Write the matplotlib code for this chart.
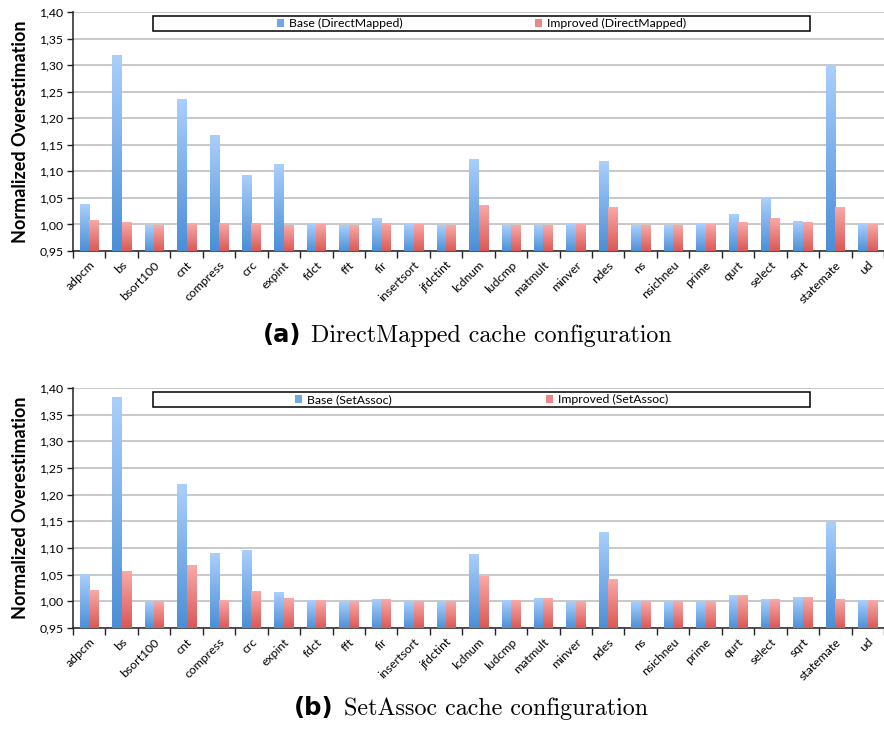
import numpy as np
import matplotlib
matplotlib.use("Agg")
import matplotlib.pyplot as plt
from matplotlib.colors import LinearSegmentedColormap
from matplotlib.patches import Rectangle

categories = ["adpcm", "bs", "bsort100", "cnt", "compress", "crc", "expint", "fdct", "fft",
              "fir", "insertsort", "jfdctint", "lcdnum", "ludcmp", "matmult", "minver", "ndes",
              "ns", "nsichneu", "prime", "qurt", "select", "sqrt", "statemate", "ud"]

dm_base = [1.037, 1.319, 0.998, 1.236, 1.168, 1.093, 1.112, 1.000, 0.998, 1.012, 1.000, 0.998,
           1.123, 0.998, 0.998, 0.999, 1.119, 0.998, 0.998, 0.999, 1.018, 1.048, 1.006, 1.297, 0.999]
dm_impr = [1.008, 1.003, 0.998, 1.002, 1.001, 1.001, 0.998, 1.000, 0.998, 1.001, 1.000, 0.998,
           1.036, 0.998, 0.998, 0.999, 1.032, 0.998, 0.998, 0.999, 1.003, 1.011, 1.003, 1.031, 0.999]

sa_base = [1.050, 1.382, 1.000, 1.220, 1.089, 1.095, 1.017, 1.001, 1.000, 1.003, 1.000, 1.000,
           1.088, 1.002, 1.005, 1.000, 1.130, 1.000, 1.000, 1.000, 1.010, 1.003, 1.008, 1.150, 1.001]
sa_impr = [1.020, 1.056, 1.000, 1.067, 1.001, 1.018, 1.005, 1.001, 1.000, 1.003, 1.000, 1.000,
           1.046, 1.002, 1.005, 1.000, 1.041, 1.000, 1.000, 0.999, 1.010, 1.003, 1.008, 1.004, 1.001]

yticks = [0.95, 1.00, 1.05, 1.10, 1.15, 1.20, 1.25, 1.30, 1.35, 1.40]
ytick_labels = ["0,95", "1,00", "1,05", "1,10", "1,15", "1,20", "1,25", "1,30", "1,35", "1,40"]

blue_cmap = LinearSegmentedColormap.from_list("b", ["#4a8ed6", "#aacffc"])
red_cmap = LinearSegmentedColormap.from_list("r", ["#d95652", "#f8aaa8"])

FONT = "Lato"
W, H = 884, 731
fig = plt.figure(figsize=(W / 100, H / 100), dpi=100)


def px_axes(left, top, right, bottom):
    return fig.add_axes([left / W, 1 - bottom / H, (right - left) / W, (bottom - top) / H])


grad = np.linspace(0, 1, 256).reshape(-1, 1)


def draw_panel(ax, base, impr, labels, colspacing):
    x = np.arange(len(categories))
    w = 0.29
    ymin = 0.95
    b1 = ax.bar(x - w / 2, np.array(base) - ymin, w, bottom=ymin, color="none", edgecolor="none")
    b2 = ax.bar(x + w / 2, np.array(impr) - ymin, w, bottom=ymin, color="none", edgecolor="none")
    for bars, cmap in ((b1, blue_cmap), (b2, red_cmap)):
        for bar in bars:
            bx, by = bar.get_x(), bar.get_y()
            bw, bh = bar.get_width(), bar.get_height()
            ax.imshow(grad, extent=[bx, bx + bw, by - 0.002, by + bh], origin="lower",
                      aspect="auto", cmap=cmap, zorder=3, interpolation="bilinear")
    ax.set_xlim(-0.5, len(categories) - 0.5)
    ax.set_ylim(0.95, 1.40)
    ax.set_yticks(yticks)
    ax.set_yticklabels(ytick_labels, fontsize=8.8, family=FONT)
    ax.yaxis.grid(True, color="#c4c4c4", linewidth=1.3, zorder=0)
    ax.set_axisbelow(True)
    ax.set_xticks(np.arange(len(categories) + 1) - 0.5)
    ax.set_xticklabels([])
    ax.set_xticks(x, minor=True)
    ax.set_xticklabels(categories, minor=True, rotation=45, ha="right",
                       rotation_mode="anchor", fontsize=8.8, family=FONT)
    ax.tick_params(axis="x", which="minor", length=0, pad=6)
    ax.tick_params(axis="x", which="major", length=5, width=1, color="#222222", direction="out")
    ax.tick_params(axis="y", length=4, width=1, color="#222222", pad=3)
    for s in ("top", "right"):
        ax.spines[s].set_visible(False)
    ax.spines["left"].set_color("#222222")
    ax.spines["bottom"].set_color("#222222")
    ax.spines["left"].set_linewidth(1.1)
    ax.spines["bottom"].set_linewidth(1.1)
    ax.set_ylabel("Normalized Overestimation", fontsize=13, fontweight="bold", family=FONT,
                  labelpad=7)
    # legend frame box
    x0, x1 = (153 - 73) / 811, (810 - 73) / 811
    rect = Rectangle((x0, 0.921), x1 - x0, 0.062, transform=ax.transAxes, facecolor="white",
                     edgecolor="black", linewidth=1.1, zorder=5)
    ax.add_patch(rect)
    h1 = Rectangle((0, 0), 1, 1, facecolor="#6fa8e8", edgecolor="none")
    h2 = Rectangle((0, 0), 1, 1, facecolor="#ee8683", edgecolor="none")
    leg = ax.legend([h1, h2], labels, ncol=2, frameon=False, loc="center",
                    bbox_to_anchor=((x0 + x1) / 2, 0.952), prop={"family": FONT, "size": 8.8},
                    handlelength=0.6, handleheight=0.6, handletextpad=0.4,
                    columnspacing=colspacing, borderpad=0)
    leg.set_zorder(6)


ax1 = px_axes(73, 12, 884, 251)
draw_panel(ax1, dm_base, dm_impr, ["Base (DirectMapped)", "Improved (DirectMapped)"], 10.8)
ax2 = px_axes(73, 388, 884, 628)
draw_panel(ax2, sa_base, sa_impr, ["Base (SetAssoc)", "Improved (SetAssoc)"], 12.6)


# captions
def caption(y, tag, text, cx):
    t1 = fig.text(0, 0, tag, fontsize=17.5, fontweight="bold", family="DejaVu Sans",
                  va="baseline")
    t2 = fig.text(0, 0, text, fontsize=17.3, family="cmr10", va="baseline")
    fig.canvas.draw()
    r = fig.canvas.get_renderer()
    w1 = t1.get_window_extent(r).width
    w2 = t2.get_window_extent(r).width
    gap = 10
    left = cx - (w1 + gap + w2) / 2
    t1.set_position((left / W, 1 - y / H))
    t2.set_position(((left + w1 + gap) / W, 1 - y / H))


caption(342, "(a)", "DirectMapped cache configuration", 467)
caption(715, "(b)", "SetAssoc cache configuration", 471)

fig.savefig("out.png", dpi=100)
